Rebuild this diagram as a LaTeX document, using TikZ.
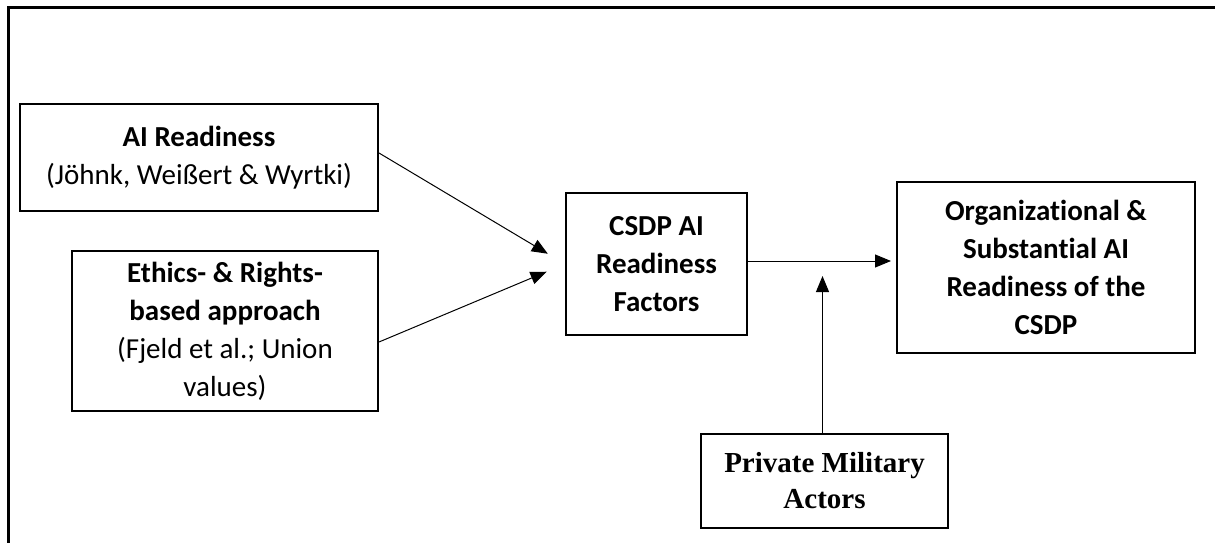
\documentclass[tikz,border=0pt]{standalone}
\usepackage{fontspec}
\newfontfamily\calfont[Ligatures=NoCommon]{Carlito}
\newfontfamily\timesfont{Liberation Serif}
\usetikzlibrary{calc,arrows.meta}

\tikzset{
  box/.style={draw, line width=2pt, inner sep=0pt, align=center,
    font={\calfont\fontsize{29}{38}\selectfont}},
  serifbox/.style={box, font={\timesfont\bfseries\fontsize{29}{36}\selectfont}},
  arr/.style={line width=1pt, -{Triangle[length=16pt,width=13pt]}}
}

\begin{document}
\begin{tikzpicture}[x=1pt,y=-1pt]
  \useasboundingbox (0,0) rectangle (1215,543);

  % open frame: top and left edges only
  \draw[line width=3pt] (8,543) -- (8,8) -- (1215,8);

  % boxes
  \node[box, minimum width=358pt, minimum height=107pt] (A) at (199,157.5)
    {\textbf{AI Readiness}\\(Jöhnk, Weißert \& Wyrtki)};
  \node[box, minimum width=306pt, minimum height=160pt] (B) at (225,331)
    {\textbf{Ethics- \& Rights-}\\\textbf{based approach}\\(Fjeld et al.; Union\\values)};
  \node[box, minimum width=181pt, minimum height=142pt] (C) at (656.5,264)
    {\textbf{CSDP AI}\\\textbf{Readiness}\\\textbf{Factors}};
  \node[box, minimum width=298pt, minimum height=171pt] (D) at (1046,267.5)
    {\textbf{Organizational \&}\\\textbf{Substantial AI}\\\textbf{Readiness of the}\\\textbf{CSDP}};
  \node[serifbox, minimum width=247pt, minimum height=94pt] (E) at (824.5,481)
    {Private Military\\Actors};

  % connectors
  \draw[arr, shorten >=20pt] ($(A.east)+(0,-4.5)$) -- (C.west);
  \draw[arr, shorten >=20pt] ($(B.east)+(0,11)$) -- (C.west);
  \coordinate (cd) at ($(C.east)+(0,-3)$);
  \draw[arr, shorten >=5pt] (cd) -- (cd -| D.west);
  \coordinate (up) at ($(E.north)+(-2,-157)$);
  \draw[arr] (E.north -| up) -- (up);
\end{tikzpicture}
\end{document}
